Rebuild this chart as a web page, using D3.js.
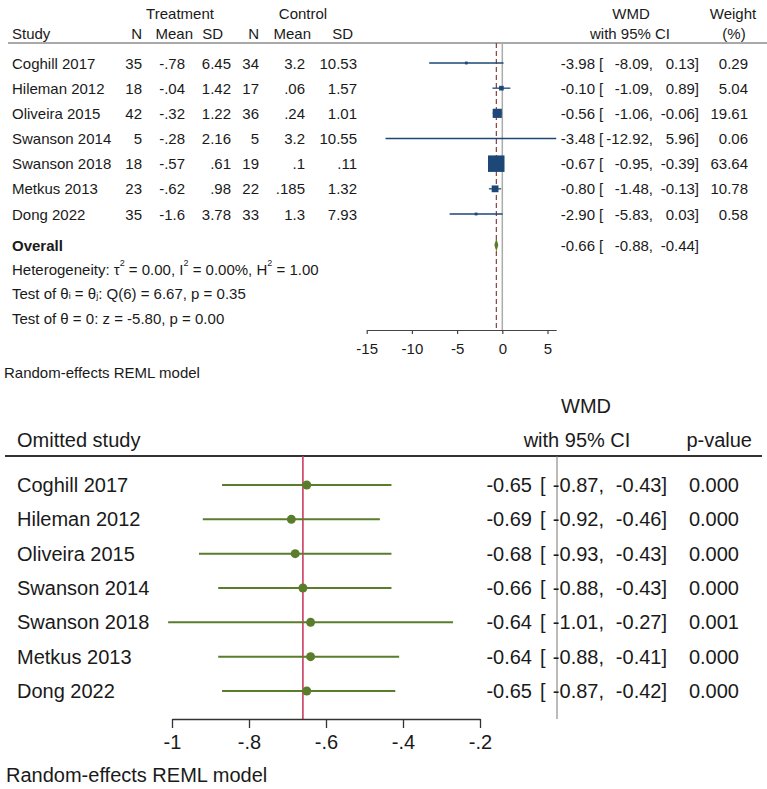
<!DOCTYPE html>
<html>
<head>
<meta charset="utf-8">
<script src="https://cdn.jsdelivr.net/npm/d3@7"></script>
<style>
  body { margin: 0; background: #fff; }
  svg text { font-family: "Liberation Sans", Arial, sans-serif; fill: #1a1a1a; }
</style>
</head>
<body>
<script>
// ---- data: forest plot (top) ----
const studies = ["Coghill 2017", "Hileman 2012", "Oliveira 2015", "Swanson 2014", "Swanson 2018", "Metkus 2013", "Dong 2022"];
const treatN = [35, 18, 42, 5, 18, 23, 35];
const treatMean = [-0.78, -0.04, -0.32, -0.28, -0.57, -0.62, -1.6];
const treatSD = [6.45, 1.42, 1.22, 2.16, 0.61, 0.98, 3.78];
const ctrlN = [34, 17, 36, 5, 19, 22, 33];
const ctrlMean = [3.2, 0.06, 0.24, 3.2, 0.1, 0.185, 1.3];
const ctrlSD = [10.53, 1.57, 1.01, 10.55, 0.11, 1.32, 7.93];
const wmd = [-3.98, -0.10, -0.56, -3.48, -0.67, -0.80, -2.90];
const wmdLo = [-8.09, -1.09, -1.06, -12.92, -0.95, -1.48, -5.83];
const wmdHi = [0.13, 0.89, -0.06, 5.96, -0.39, -0.13, 0.03];
const weight = [0.29, 5.04, 19.61, 0.06, 63.64, 10.78, 0.58];
const overall = { est: -0.66, lo: -0.88, hi: -0.44 };
const topTicks = [-15, -10, -5, 0, 5];

// ---- data: leave-one-out (bottom) ----
const looEst = [-0.65, -0.69, -0.68, -0.66, -0.64, -0.64, -0.65];
const looLo = [-0.87, -0.92, -0.93, -0.88, -1.01, -0.88, -0.87];
const looHi = [-0.43, -0.46, -0.43, -0.43, -0.27, -0.41, -0.42];
const looP = ["0.000", "0.000", "0.000", "0.000", "0.001", "0.000", "0.000"];
const bottomTicks = [-1, -0.8, -0.6, -0.4, -0.2];

const W = 767, H = 789;
const navy = "#1d4776", green = "#5a7d2c";

// Stata style: no leading zero
const stata = v => String(v).replace(/^(-?)0\./, "$1.");
const f2 = v => v.toFixed(2);

const svg = d3.select("body").append("svg")
  .attr("width", W).attr("height", H);

function txt(g, s, x, y, anchor, size, weightStr) {
  return g.append("text")
    .attr("x", x).attr("y", y)
    .attr("text-anchor", anchor || "start")
    .attr("dominant-baseline", "central")
    .style("font-size", (size || 15) + "px")
    .style("font-weight", weightStr || "normal")
    .text(s);
}

// text with small super/subscripts
function richTxt(g, parts, x, y, size) {
  const t = g.append("text").attr("x", x).attr("y", y)
    .attr("dominant-baseline", "central")
    .style("font-size", size + "px");
  let shift = 0;
  parts.forEach(p => {
    const want = p.sup ? -6 : p.sub ? 3 : 0;
    t.append("tspan")
      .attr("dy", want - shift)
      .style("font-size", (p.sup || p.sub) ? "9px" : null)
      .text(p.t);
    shift = want;
  });
}

// ================= TOP PANEL =================
const topG = svg.append("g");
const fsT = 15;
const xT = d3.scaleLinear().domain([-15, 5.96]).range([366.7, 556.2]);
const yT = d3.scaleLinear().domain([0, studies.length - 1]).range([63, 214]);
const yOverall = 245, yAxisT = 330, yHeadLine = 43;
const sq = d3.scaleSqrt().domain([0, d3.max(weight)]).range([0, 16.5]);
const side = w => { const s = sq(w); return s < 0.8 ? s : Math.max(2.8, s); };

// headers
txt(topG, "Treatment", 180, 13, "middle", fsT);
txt(topG, "Control", 303, 13, "middle", fsT);
txt(topG, "Study", 12, 33, "start", fsT);
[["N", 142], ["Mean", 193], ["SD", 223], ["N", 259], ["Mean", 311], ["SD", 353]]
  .forEach(([s, x]) => txt(topG, s, x, 33, "end", fsT));
txt(topG, "WMD", 631, 13, "middle", fsT);
txt(topG, "with 95% CI", 630, 33, "middle", fsT);
txt(topG, "Weight", 733, 13, "middle", fsT);
txt(topG, "(%)", 734, 33, "middle", fsT);

topG.append("line")
  .attr("x1", 8).attr("x2", W).attr("y1", yHeadLine).attr("y2", yHeadLine)
  .attr("stroke", "#555").attr("stroke-width", 1.2);

// reference lines
topG.append("line")
  .attr("x1", xT(0)).attr("x2", xT(0)).attr("y1", yHeadLine).attr("y2", yAxisT)
  .attr("stroke", "#aaa").attr("stroke-width", 1.5);
topG.append("line")
  .attr("x1", xT(overall.est)).attr("x2", xT(overall.est)).attr("y1", yHeadLine).attr("y2", yAxisT)
  .attr("stroke", "#8e3d3d").attr("stroke-width", 1.2).attr("stroke-dasharray", "5,3");

// table rows
const cols = [
  { arr: treatN, x: 142, f: String },
  { arr: treatMean, x: 185, f: stata },
  { arr: treatSD, x: 231, f: stata },
  { arr: ctrlN, x: 259, f: String },
  { arr: ctrlMean, x: 305, f: stata },
  { arr: ctrlSD, x: 357, f: stata }
];
studies.forEach((s, i) => {
  const y = yT(i);
  txt(topG, s, 12, y, "start", fsT);
  cols.forEach(c => txt(topG, c.f(c.arr[i]), c.x, y, "end", fsT));
  txt(topG, f2(wmd[i]), 595, y, "end", fsT);
  txt(topG, "[", 599, y, "start", fsT);
  txt(topG, f2(wmdLo[i]) + ",", 653, y, "end", fsT);
  txt(topG, f2(wmdHi[i]) + "]", 699, y, "end", fsT);
  txt(topG, f2(weight[i]), 748, y, "end", fsT);
});

// CI lines and squares
topG.selectAll(".ci").data(studies).join("line")
  .attr("class", "ci")
  .attr("x1", (d, i) => xT(wmdLo[i])).attr("x2", (d, i) => xT(wmdHi[i]))
  .attr("y1", (d, i) => yT(i)).attr("y2", (d, i) => yT(i))
  .attr("stroke", navy).attr("stroke-width", 1.3);
topG.selectAll(".sq").data(studies).join("rect")
  .attr("class", "sq")
  .attr("x", (d, i) => xT(wmd[i]) - side(weight[i]) / 2)
  .attr("y", (d, i) => yT(i) - side(weight[i]) / 2)
  .attr("width", (d, i) => side(weight[i]))
  .attr("height", (d, i) => side(weight[i]))
  .attr("fill", navy);

// overall
txt(topG, "Overall", 12, yOverall, "start", fsT, "bold");
topG.append("path")
  .attr("d", `M${xT(overall.lo)},${yOverall} L${xT(overall.est)},${yOverall - 6.5} L${xT(overall.hi)},${yOverall} L${xT(overall.est)},${yOverall + 6.5}Z`)
  .attr("fill", green);
txt(topG, f2(overall.est), 595, yOverall, "end", fsT);
txt(topG, "[", 599, yOverall, "start", fsT);
txt(topG, f2(overall.lo) + ",", 653, yOverall, "end", fsT);
txt(topG, f2(overall.hi) + "]", 699, yOverall, "end", fsT);

richTxt(topG, [
  { t: "Heterogeneity: τ" }, { t: "2", sup: true }, { t: " = 0.00, I" }, { t: "2", sup: true },
  { t: " = 0.00%, H" }, { t: "2", sup: true }, { t: " = 1.00" }
], 12, 269, fsT);
richTxt(topG, [
  { t: "Test of θ" }, { t: "i", sub: true }, { t: " = θ" }, { t: "j", sub: true }, { t: ": Q(6) = 6.67, p = 0.35" }
], 12, 293, fsT);
richTxt(topG, [{ t: "Test of θ = 0: z = -5.80, p = 0.00" }], 12, 318, fsT);

// axis
const axT = topG.append("g")
  .attr("transform", `translate(0,${yAxisT})`)
  .call(d3.axisBottom(xT).tickValues(topTicks).tickSize(4).tickSizeOuter(0).tickPadding(9).tickFormat(d => String(d)));
axT.select(".domain").attr("stroke", "#444").attr("stroke-width", 1.2);
axT.selectAll(".tick line").attr("stroke", "#444").attr("stroke-width", 1.2);
axT.selectAll(".tick text").style("font-size", fsT + "px").attr("fill", "#1a1a1a");

txt(topG, "Random-effects REML model", 4, 372, "start", fsT);

// ================= BOTTOM PANEL =================
const botG = svg.append("g");
const fsB = 20;
const xB = d3.scaleLinear().domain([-1, -0.2]).range([172, 480]);
const yB = d3.scaleLinear().domain([0, studies.length - 1]).range([485, 691]);
const yHeadB = 456, yAxisB = 719;

txt(botG, "WMD", 586, 406, "middle", fsB);
txt(botG, "Omitted study", 17, 440, "start", fsB);
txt(botG, "with 95% CI", 577, 440, "middle", fsB);
txt(botG, "p-value", 752, 440, "end", fsB);

botG.append("line")
  .attr("x1", 5).attr("x2", 762).attr("y1", yHeadB).attr("y2", yHeadB)
  .attr("stroke", "#333").attr("stroke-width", 2);

// null line (0) and pooled estimate line
botG.append("line")
  .attr("x1", xB(0)).attr("x2", xB(0)).attr("y1", yHeadB).attr("y2", yAxisB)
  .attr("stroke", "#777").attr("stroke-width", 1);
botG.append("line")
  .attr("x1", xB(overall.est)).attr("x2", xB(overall.est)).attr("y1", yHeadB).attr("y2", yAxisB)
  .attr("stroke", "#cc3b62").attr("stroke-width", 1.6);

botG.selectAll(".lci").data(studies).join("line")
  .attr("class", "lci")
  .attr("x1", (d, i) => xB(looLo[i])).attr("x2", (d, i) => xB(looHi[i]))
  .attr("y1", (d, i) => yB(i)).attr("y2", (d, i) => yB(i))
  .attr("stroke", green).attr("stroke-width", 2);
botG.selectAll(".dot").data(studies).join("circle")
  .attr("class", "dot")
  .attr("cx", (d, i) => xB(looEst[i])).attr("cy", (d, i) => yB(i))
  .attr("r", 4.5).attr("fill", green);

studies.forEach((s, i) => {
  const y = yB(i);
  txt(botG, s, 17, y, "start", fsB);
  txt(botG, f2(looEst[i]), 532, y, "end", fsB);
  txt(botG, "[", 540, y, "start", fsB);
  txt(botG, f2(looLo[i]) + ",", 604, y, "end", fsB);
  txt(botG, f2(looHi[i]) + "]", 667, y, "end", fsB);
  txt(botG, looP[i], 739, y, "end", fsB);
});

const axB = botG.append("g")
  .attr("transform", `translate(0,${yAxisB})`)
  .call(d3.axisBottom(xB).tickValues(bottomTicks).tickSize(9).tickSizeOuter(0).tickPadding(7).tickFormat(stata));
axB.select(".domain").attr("stroke", "#333").attr("stroke-width", 1.3);
axB.selectAll(".tick line").attr("stroke", "#333").attr("stroke-width", 1.3);
axB.selectAll(".tick text").style("font-size", fsB + "px").attr("fill", "#1a1a1a");

txt(botG, "Random-effects REML model", 6, 775, "start", fsB);
</script>
</body>
</html>
